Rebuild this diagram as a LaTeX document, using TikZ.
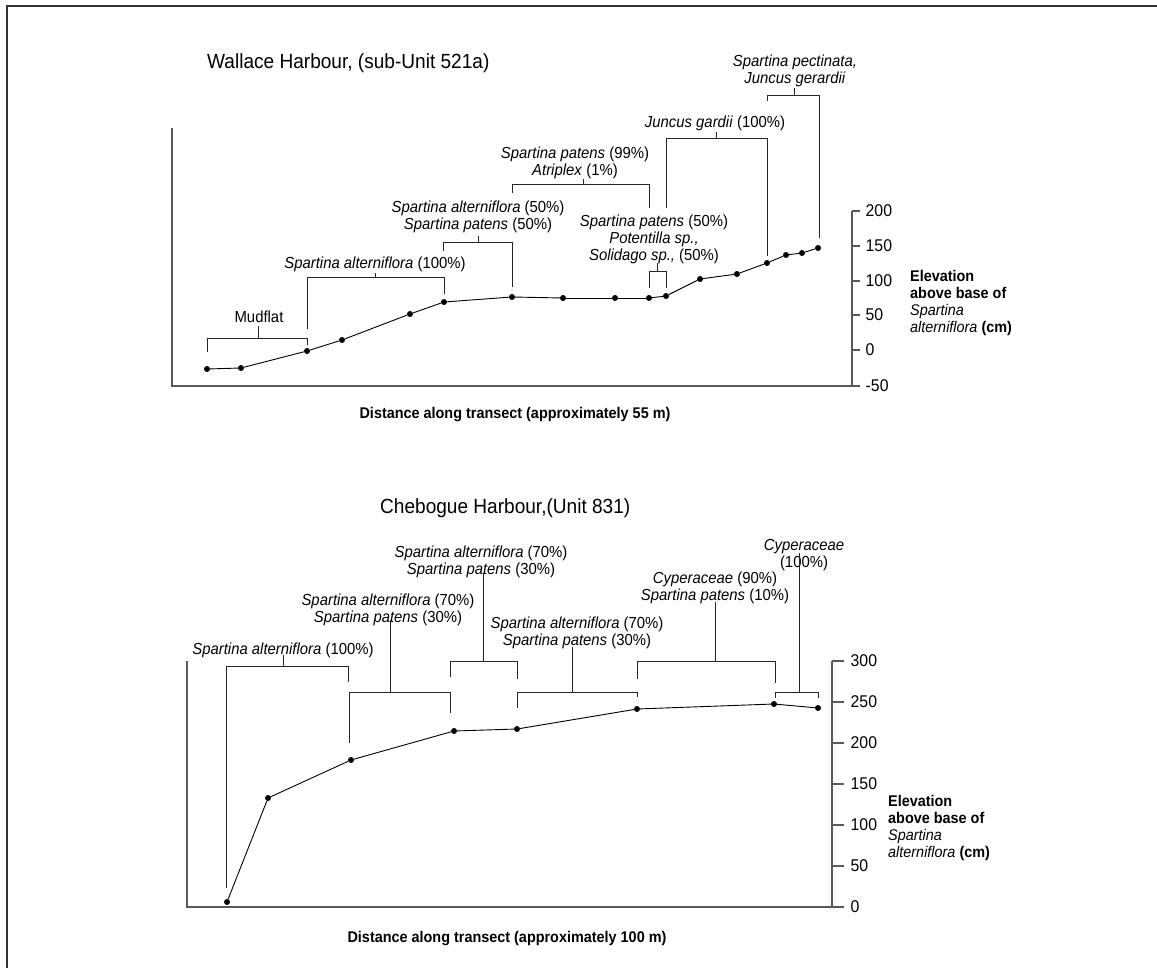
\documentclass[tikz,border=0pt]{standalone}
\usepackage{fontspec}
\setmainfont{Liberation Sans}[FakeStretch=0.93]
\tikzset{
	axis/.style={draw=black!65,line width=1.4pt},
	brace/.style={draw=black!85,line width=0.9pt},
	dot/.style={circle,fill=black,inner sep=0pt,minimum size=6pt},
	lab/.style={font=\fontsize{16}{17}\selectfont,align=center,inner sep=0pt,anchor=base},
	heading/.style={font=\fontsize{20.5}{24}\selectfont,inner sep=0pt,anchor=base west},
	axtitle/.style={font=\fontsize{15.5}{17}\selectfont\bfseries,inner sep=0pt},
	ticklab/.style={font=\fontsize{17}{17}\selectfont,inner sep=0pt},
}
\begin{document}
\begin{tikzpicture}[x=1pt,y=-1pt]
			\useasboundingbox (0,0) rectangle (1157,968);
			\draw[black!80,line width=1.5pt] (7,968) -- (7,6) -- (1157,6);
			% Wallace Harbour
			\node[heading] (wtitle) at (207,69) {Wallace Harbour, (sub-Unit 521a)};
			\draw[axis] (172,128) -- (172,386) -- (852,386) -- (852,211);
			\foreach \v/\yy in {200/211,150/246,100/281,50/315,0/350,-50/386}
				\draw[axis] (852,\yy) -- (860,\yy) node[ticklab,right=5pt] {\v};
			\node[axtitle,align=left,anchor=base west] (wy) at (910,333)
				{Elevation\\above base of\\{\mdseries\itshape Spartina}\\{\mdseries\itshape alterniflora} (cm)};
			\node[axtitle,anchor=base] (wx) at (515,418) {Distance along transect (approximately 55 m)};
			\foreach \x/\y [count=\i] in {207/369,241/368,307/351,342/340,410/314,444/302,512/297,563/298,615/298,
				649/298,666/296,700/279,737/274,767/263,786/255,802/253,818/248}
				\node[dot] (w\i) at (\x,\y) {};
			\foreach \i [remember=\i as \j (initially 1)] in {2,...,17}
				\draw[line width=0.9pt] (w\j) -- (w\i);
			\node[lab] (mud) at (259,323) {Mudflat};
			\node[lab] (walt) at (375,269) {\textit{Spartina alterniflora} (100\%)};
			\node[lab] (wmix) at (478,230) {\textit{Spartina alterniflora} (50\%)\\\textit{Spartina patens} (50\%)};
			\node[lab] (wpat) at (575,176) {\textit{Spartina patens} (99\%)\\\textit{Atriplex} (1\%)};
			\node[lab] (wpot) at (654,261) {\textit{Spartina patens} (50\%)\\\textit{Potentilla sp.,}\\\textit{Solidago sp.,} (50\%)};
			\node[lab] (wjun) at (715,128) {\textit{Juncus gardii} (100\%)};
			\node[lab] (wpec) at (795,84) {\textit{Spartina pectinata,}\\\textit{Juncus gerardii}};
			\foreach \xl/\xr/\yb/\yl/\yr/\xs/\ys in {207/307/338/352/345/258/326,307/444/277/329/294/375/273,
				443/512/242/251/287/478/236,512/649/184/193/208/583/179,649/666/271/288/288/657/263,
				666/767/138/208/256/716/132,767/819/95/101/238/794/88}
				\draw[brace] (\xl,\yl) -- (\xl,\yb) -- (\xr,\yb) -- (\xr,\yr) (\xs,\yb) -- (\xs,\ys);
			% Chebogue Harbour
			\node[heading] (ctitle) at (380,513) {Chebogue Harbour,(Unit 831)};
			\draw[axis] (187,661) -- (187,907) -- (832,907) -- (832,661);
			\foreach \v/\yy in {300/661,250/702,200/743,150/784,100/825,50/866,0/907}
				\draw[axis] (832,\yy) -- (844,\yy) node[ticklab,right=6pt] {\v};
			\node[axtitle,align=left,anchor=base west] (cy) at (888,857)
				{Elevation\\above base of\\{\mdseries\itshape Spartina}\\{\mdseries\itshape alterniflora} (cm)};
			\node[axtitle,anchor=base] (cx) at (507,942) {Distance along transect (approximately 100 m)};
			\foreach \x/\y [count=\i] in {227/902,268/798,351/760,454/731,517/729,637/709,774/704,818/708}
				\node[dot] (c\i) at (\x,\y) {};
			\foreach \i [remember=\i as \j (initially 1)] in {2,...,8}
				\draw[line width=0.9pt] (c\j) -- (c\i);
			\node[lab] (calt) at (283,654) {\textit{Spartina alterniflora} (100\%)};
			\node[lab] (cmixa) at (388,622) {\textit{Spartina alterniflora} (70\%)\\\textit{Spartina patens} (30\%)};
			\node[lab] (cmixb) at (481,574) {\textit{Spartina alterniflora} (70\%)\\\textit{Spartina patens} (30\%)};
			\node[lab] (cmixc) at (577,645) {\textit{Spartina alterniflora} (70\%)\\\textit{Spartina patens} (30\%)};
			\node[lab] (ccyp) at (715,600) {\textit{Cyperaceae} (90\%)\\\textit{Spartina patens} (10\%)};
			\node[lab] (ccyf) at (804,567) {\textit{Cyperaceae}\\(100\%)};
			\foreach \xl/\xr/\yb/\yl/\yr/\xs/\ys in {226/348/666/888/682/283/655,349/450/692/743/713/390/620,
				450/517/661/677/679/483/573,517/637/692/708/697/572/647,637/775/661/679/683/715/602,
				775/818/692/698/698/799/553}
				\draw[brace] (\xl,\yl) -- (\xl,\yb) -- (\xr,\yb) -- (\xr,\yr) (\xs,\yb) -- (\xs,\ys);
		\end{tikzpicture}
\end{document}
